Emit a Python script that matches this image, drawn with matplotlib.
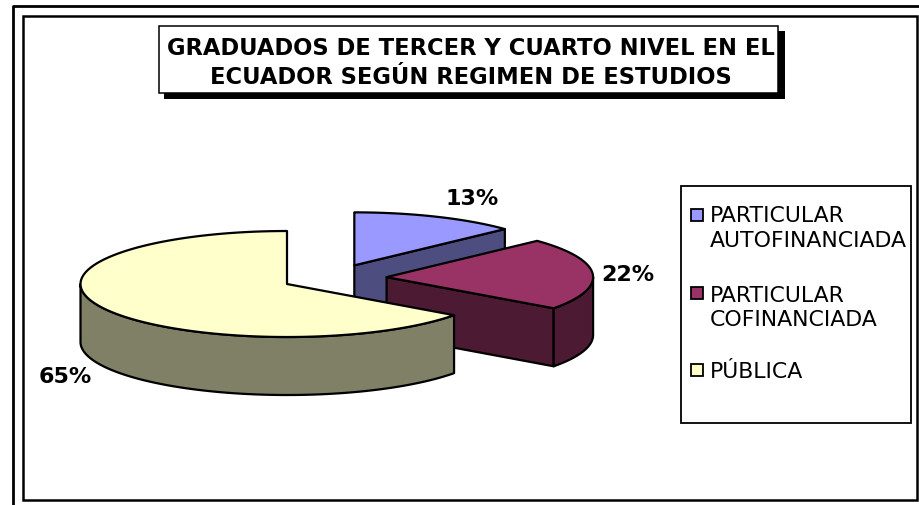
import numpy as np
import matplotlib
matplotlib.use("Agg")
import matplotlib.pyplot as plt
from matplotlib.patches import Polygon, Rectangle

# Data
categories = ["PARTICULAR\nAUTOFINANCIADA", "PARTICULAR\nCOFINANCIADA", "PÚBLICA"]
shares = [13, 22, 65]
title_lines = ["GRADUADOS DE TERCER Y CUARTO NIVEL EN EL", "ECUADOR SEGÚN REGIMEN DE ESTUDIOS"]

top_colors = ["#9999ff", "#993366", "#ffffcc"]
side_colors = ["#4d4d80", "#4d1a33", "#808066"]
explode = [0.26, 0.26, 0.25]

# Pie geometry, in pixels
CX, CY = 333, 279
RX, RY = 206.5, 53
DEPTH = 58
LW = 1.6
FONT = "DejaVu Sans"

fig = plt.figure(figsize=(9.19, 5.06), dpi=100)
ax = fig.add_axes([0, 0, 1, 1])
ax.set_xlim(0, 919)
ax.set_ylim(506, 0)
ax.axis("off")


def rim_points(cx, cy, t0, t1):
    # angles in degrees, clockwise from the top of the pie
    t = np.radians(np.linspace(t0, t1, 200))
    return np.column_stack([cx + RX * np.sin(t), cy - RY * np.cos(t)])


def box(x0, y0, x1, y1, lw=LW, face="white", z=1):
    ax.add_patch(Rectangle((x0, y0), x1 - x0, y1 - y0, fc=face, ec="black", lw=lw, zorder=z))


# Frames
ax.plot([12.5, 12.5, 919], [506, 6.5, 6.5], color="black", lw=2, zorder=1)
box(23, 17, 917, 501, lw=1.8)

# Title with its shadow
ax.add_patch(Rectangle((164, 32), 621, 68, fc="black", ec="none", zorder=2))
box(159, 27, 778, 94, lw=1.1, z=3)
for line, y in zip(title_lines, [55, 83.5]):
    ax.text(471, y, line, ha="center", va="baseline", fontsize=16.3, fontweight="bold",
            family=FONT, zorder=4)

# Slices, back to front
angles = np.cumsum([0] + shares) * 3.6
z = 5
for i, share in enumerate(shares):
    t0, t1 = angles[i], angles[i + 1]
    mid = np.radians((t0 + t1) / 2)
    cx = CX + explode[i] * RX * np.sin(mid)
    cy = CY - explode[i] * RY * np.cos(mid)
    apex = np.array([cx, cy])
    down = np.array([0, DEPTH])

    # flat side that faces the viewer
    if np.sin(np.radians(t1)) > 1e-6:
        end = rim_points(cx, cy, t1, t1)[0]
        ax.add_patch(Polygon([apex, end, end + down, apex + down], fc=side_colors[i],
                             ec="black", lw=LW, joinstyle="round", zorder=z))
    # outer wall
    r0, r1 = max(t0, 90), min(t1, 270)
    if r1 > r0:
        rim = rim_points(cx, cy, r0, r1)
        ax.add_patch(Polygon(np.vstack([rim, (rim + down)[::-1]]), fc=side_colors[i],
                             ec="black", lw=LW, joinstyle="round", zorder=z))
    # top face
    ax.add_patch(Polygon(np.vstack([apex, rim_points(cx, cy, t0, t1)]), fc=top_colors[i],
                         ec="black", lw=LW, joinstyle="round", zorder=z + 1))
    z += 2

# Percent labels
label_xy = [(472, 199), (628, 275), (65, 377)]
for share, (x, y) in zip(shares, label_xy):
    ax.text(x, y, f"{share}%", ha="center", va="center", fontsize=16, fontweight="bold",
            family=FONT, zorder=20)

# Legend
box(681, 187, 911, 424, lw=1.3, z=3)
swatch_y = [215.5, 294, 370.5]
baselines = [222.5, 301.5, 377.5]
for name, col, y, base in zip(categories, top_colors, swatch_y, baselines):
    ax.add_patch(Rectangle((691, y - 6), 12, 12, fc=col, ec="black", lw=1.3, zorder=4))
    for k, part in enumerate(name.split("\n")):
        ax.text(710, base + 24.3 * k, part, ha="left", va="baseline", fontsize=15.8, family=FONT, zorder=4)

fig.savefig("out.png", dpi=100)
